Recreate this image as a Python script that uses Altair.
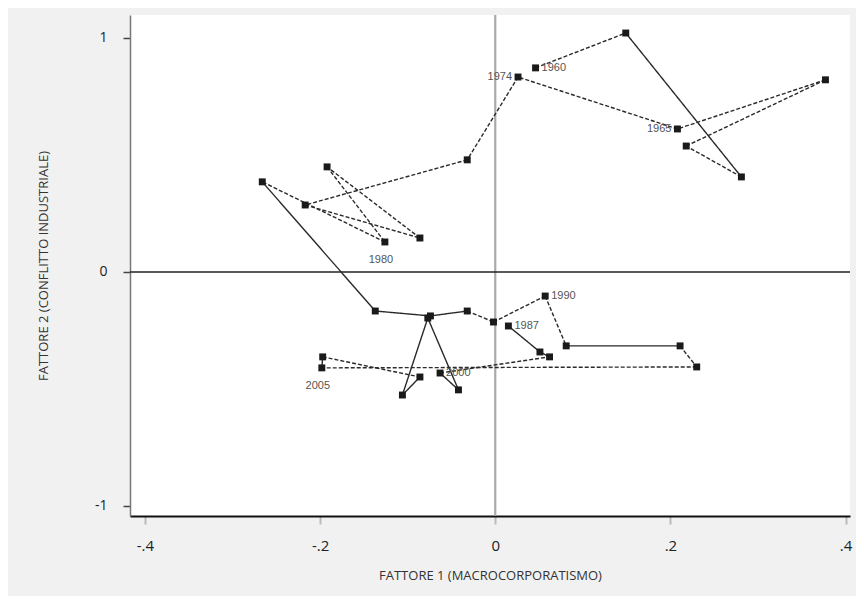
import altair as alt
import pandas as pd

# Ordered path of observations (connected scatter)
point_x = [0.046, 0.149, 0.281, 0.218, 0.377, 0.208, 0.026, -0.032, -0.217, -0.086,
           -0.192, -0.126, -0.266, -0.137, -0.074, -0.032, -0.002, 0.057, 0.081, 0.211,
           0.230, -0.198, -0.197, -0.086, -0.106, -0.077, -0.042, -0.063, 0.062, 0.051, 0.015]
point_y = [0.872, 1.021, 0.406, 0.538, 0.821, 0.611, 0.833, 0.479, 0.286, 0.145,
           0.449, 0.128, 0.385, -0.167, -0.188, -0.167, -0.214, -0.103, -0.316, -0.316,
           -0.406, -0.410, -0.363, -0.449, -0.526, -0.197, -0.504, -0.432, -0.363, -0.342, -0.231]
point_label = ["1960", "", "", "", "", "1965", "1974", "", "", "",
               "", "1980", "", "", "", "", "", "1990", "", "",
               "", "2005", "", "", "", "", "", "2000", "", "", "1987"]
# line pattern of each segment between consecutive points
segment_style = ["tratteggio", "continua", "tratteggio", "tratteggio", "tratteggio", "tratteggio",
                 "tratteggio", "tratteggio", "tratteggio", "tratteggio", "tratteggio", "tratteggio",
                 "continua", "continua", "continua", "tratteggio", "tratteggio", "tratteggio",
                 "continua", "tratteggio", "tratteggio", "continua", "tratteggio", "continua",
                 "continua", "continua", "continua", "tratteggio", "continua", "continua"]

label_left = ["1974", "1965"]
label_right = ["1960", "1990", "1987", "2000"]
label_below = ["1980", "2005"]

x_ticks = [-0.4, -0.2, 0, 0.2, 0.4]
y_ticks = [-1, 0, 1]

points = pd.DataFrame({"x": point_x, "y": point_y, "label": point_label})
segments = pd.DataFrame({
    "x": point_x[:-1], "y": point_y[:-1],
    "x2": point_x[1:], "y2": point_y[1:],
    "stile": segment_style,
})

xs = alt.Scale(domain=[-0.417, 0.405], nice=False, zero=False)
ys = alt.Scale(domain=[-1.043, 1.098], nice=False, zero=False)

FONT = "Open Sans"

x_enc = alt.X("x:Q", scale=xs, axis=alt.Axis(
    values=x_ticks, title="FATTORE 1 (MACROCORPORATISMO)",
    labelExpr="datum.value == 0 ? '0' : (datum.value < 0 ? '-' : '') + replace(format(abs(datum.value), '.1f'), '0.', '.')",
    grid=False, domainColor="#111", domainWidth=2, tickColor="#bbb", tickSize=8,
    tickWidth=2, labelPadding=14, labelFontSize=15, labelColor="#222", labelFont=FONT,
    titleFont=FONT, titleFontSize=13, titleFontWeight="normal", titleColor="#333",
    titlePadding=16))
y_enc = alt.Y("y:Q", scale=ys, axis=alt.Axis(
    values=y_ticks, title="FATTORE 2 (CONFLITTO INDUSTRIALE)",
    labelExpr="(datum.value < 0 ? '-' : '') + abs(datum.value)",
    grid=False, domainColor="#777", domainWidth=1.5, tickColor="#444", tickSize=7,
    tickWidth=1.5, labelPadding=16, labelFontSize=14, labelColor="#222", labelFont=FONT,
    titleFont=FONT, titleFontSize=13, titleFontWeight="normal", titleColor="#333",
    titlePadding=44))

base_zero = pd.DataFrame({"v": [0]})
hline = alt.Chart(base_zero).mark_rule(color="#222", strokeWidth=1.6).encode(
    y=alt.Y("v:Q", scale=ys))
vline = alt.Chart(base_zero).mark_rule(color="#aaa", strokeWidth=2.2).encode(
    x=alt.X("v:Q", scale=xs))

segs = alt.Chart(segments).mark_rule(color="#2a2a2a", strokeWidth=1.4).encode(
    x=x_enc, y=y_enc, x2="x2:Q", y2="y2:Q",
    strokeDash=alt.StrokeDash("stile:N", scale=alt.Scale(
        domain=["continua", "tratteggio"], range=[[1, 0], [4, 2]]), legend=None),
)

pts = alt.Chart(points).mark_point(filled=True, shape="square", size=48,
                                   color="#1a1a1a", opacity=1).encode(
    x=alt.X("x:Q", scale=xs), y=alt.Y("y:Q", scale=ys))

def lbl(names, **kw):
    return alt.Chart(points).transform_filter(
        alt.FieldOneOfPredicate(field="label", oneOf=names)
    ).mark_text(font="Liberation Sans", fontSize=11, color="#555", **kw).encode(
        x=alt.X("x:Q", scale=xs), y=alt.Y("y:Q", scale=ys), text="label:N")

texts = (lbl(label_left, align="right", dx=-6)
         + lbl(label_right, align="left", dx=6)
         + lbl(label_below, align="center", dy=18, dx=-4))

chart = (vline + hline + segs + pts + texts).properties(
    width=720, height=501,
    autosize=alt.AutoSizeParams(type="none"),
    padding={"left": 122, "top": 7, "right": 6, "bottom": 80},
    background="#f1f1f1",
).configure_view(fill="white", stroke=None)

chart.save("out.html", embed_options={"renderer": "svg", "actions": False})
